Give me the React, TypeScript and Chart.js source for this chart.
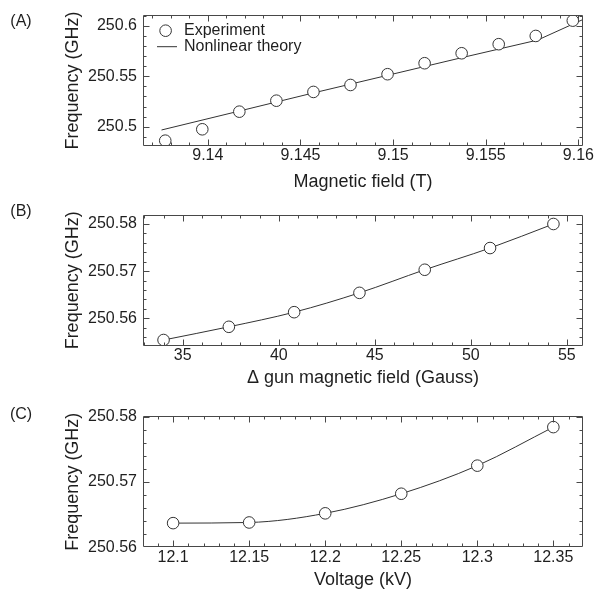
import React, { useEffect, useRef } from "react";
import { Chart, registerables } from "chart.js";
Chart.register(...registerables);

const FONT = "'Liberation Sans', Arial, Helvetica, sans-serif";
const INK = "#1e1e1e";
const FRAME = "#484848";

// ---------- Panel A ----------
const fieldA = [9.1377, 9.1397, 9.1417, 9.1437, 9.1457, 9.1477, 9.1497, 9.1517, 9.1537, 9.1557, 9.1577, 9.1597];
const freqA = [250.4861, 250.4974, 250.5149, 250.5258, 250.5345, 250.5414, 250.5521, 250.563, 250.5729, 250.5819, 250.5901, 250.6053];
const theoryFieldA = [9.1375, 9.1417, 9.1457, 9.1497, 9.1537, 9.1578, 9.1602];
const theoryFreqA = [250.4967, 250.5155, 250.5335, 250.551, 250.5685, 250.586, 250.606];
const xTicksA = [9.14, 9.145, 9.15, 9.155, 9.16];
const yTicksA = [250.5, 250.55, 250.6];

// ---------- Panel B ----------
const gunB = [34.0, 37.4, 40.8, 44.2, 47.6, 51.0, 54.3];
const freqB = [250.5554, 250.5582, 250.5613, 250.5654, 250.5703, 250.5749, 250.58];
const theoryGunB = [34.0, 37.4, 40.8, 44.2, 47.6, 51.0, 54.3];
const theoryFreqB = [250.5554, 250.5582, 250.5613, 250.5654, 250.5703, 250.5749, 250.58];
const xTicksB = [35, 40, 45, 50, 55];
const yTicksB = [250.56, 250.57, 250.58];

// ---------- Panel C ----------
const voltC = [12.1, 12.15, 12.2, 12.25, 12.3, 12.35];
const freqC = [250.5637, 250.5638, 250.5652, 250.5682, 250.5725, 250.5784];
const theoryVoltC = [12.1, 12.15, 12.2, 12.25, 12.3, 12.35];
const theoryFreqC = [250.5637, 250.5638, 250.5652, 250.5682, 250.5725, 250.5784];
const xTicksC = [12.1, 12.15, 12.2, 12.25, 12.3, 12.35];
const yTicksC = [250.56, 250.57, 250.58];

const framePlugin = {
  id: "frameTicks",
  afterDraw(chart: any, _a: any, opts: any) {
    const { ctx, chartArea: a, scales } = chart;
    const xs = scales.x, ys = scales.y;
    const L = Math.round(a.left) + 0.5, R = Math.round(a.right) - 0.5;
    const T = Math.round(a.top) + 0.5, B = Math.round(a.bottom) - 0.5;
    ctx.save();
    ctx.strokeStyle = FRAME;
    ctx.lineWidth = 1;
    ctx.beginPath();
    ctx.rect(L, T, R - L, B - T);
    ctx.stroke();
    const near = (v: number, arr: number[], step: number) => arr.some((m) => Math.abs(m - v) < step * 0.05);
    ctx.beginPath();
    const drawX = (v: number, len: number) => {
      const p = Math.round(xs.getPixelForValue(v)) + 0.5;
      if (p < L - 0.1 || p > R + 0.1) return;
      ctx.moveTo(p, B); ctx.lineTo(p, B - len);
      ctx.moveTo(p, T); ctx.lineTo(p, T + len);
    };
    const drawY = (v: number, len: number) => {
      const p = Math.round(ys.getPixelForValue(v)) + 0.5;
      if (p < T - 0.1 || p > B + 0.1) return;
      ctx.moveTo(L, p); ctx.lineTo(L + len, p);
      ctx.moveTo(R, p); ctx.lineTo(R - len, p);
    };
    opts.xMajor.forEach((v: number) => drawX(v, 6));
    opts.yMajor.forEach((v: number) => drawY(v, 6));
    for (let k = Math.ceil(xs.min / opts.xMinor - 1e-6); k * opts.xMinor <= xs.max + 1e-9; k++) {
      const v = k * opts.xMinor;
      if (!near(v, opts.xMajor, opts.xMinor)) drawX(v, 3);
    }
    for (let k = Math.ceil(ys.min / opts.yMinor - 1e-6); k * opts.yMinor <= ys.max + 1e-9; k++) {
      const v = k * opts.yMinor;
      if (!near(v, opts.yMajor, opts.yMinor)) drawY(v, 3);
    }
    ctx.stroke();
    // panel label
    ctx.fillStyle = INK;
    ctx.font = `16px ${FONT}`;
    ctx.textAlign = "center";
    ctx.textBaseline = "middle";
    ctx.fillText(opts.label, opts.lx, opts.ly);
    // legend
    if (opts.legend) {
      const lx = a.left, ly = a.top;
      ctx.beginPath();
      ctx.arc(lx + 22.6, ly + 15.7, 5.8, 0, Math.PI * 2);
      ctx.fillStyle = "#fff";
      ctx.fill();
      ctx.strokeStyle = "#333";
      ctx.stroke();
      ctx.beginPath();
      ctx.moveTo(lx + 14, ly + 31.7);
      ctx.lineTo(lx + 34, ly + 31.7);
      ctx.stroke();
      ctx.fillStyle = INK;
      ctx.textAlign = "left";
      ctx.font = `16px ${FONT}`;
      ctx.fillText(opts.legend[0], lx + 41, ly + 15.7);
      ctx.fillText(opts.legend[1], lx + 41, ly + 31.7);
    }
    ctx.restore();
  },
};

type PanelCfg = {
  H: number;
  frameTop: number;
  frameBottom: number;
  titlePadBottom: number;
  xs: number[]; ys: number[]; txs: number[]; tys: number[];
  xTicks: number[]; yTicks: number[];
  xMin: number; xMax: number; yMin: number; yMax: number;
  xMinor: number; yMinor: number;
  xTitle: string;
  label: string; lx: number; ly: number;
  legend?: string[];
  smooth: boolean;
};

function Panel({ cfg, top }: { cfg: PanelCfg; top: number }) {
  const ref = useRef<HTMLCanvasElement | null>(null);
  useEffect(() => {
    if (!ref.current) return;
    const tickFont = { family: FONT, size: 16, lineHeight: 1 };
    const titleFont = { family: FONT, size: 18 };
    const chart = new Chart(ref.current, {
      type: "scatter",
      data: {
        datasets: [
          {
            label: "Experiment",
            data: cfg.xs.map((x, i) => ({ x, y: cfg.ys[i] })),
            showLine: false,
            pointRadius: 5.8,
            pointBorderWidth: 1,
            pointBorderColor: "#333",
            pointBackgroundColor: "#fff",
          },
          {
            label: "Nonlinear theory",
            data: cfg.txs.map((x, i) => ({ x, y: cfg.tys[i] })),
            showLine: true,
            pointRadius: 0,
            borderColor: "#333",
            borderWidth: 1,
            cubicInterpolationMode: cfg.smooth ? "monotone" : "default",
          } as any,
        ],
      },
      options: {
        animation: false,
        responsive: false,
        maintainAspectRatio: false,
        events: [],
        layout: { padding: { top: cfg.frameTop, right: 21, bottom: 0, left: 0 } },
        plugins: {
          legend: { display: false },
          tooltip: { enabled: false },
          frameTicks: {
            xMajor: cfg.xTicks, yMajor: cfg.yTicks, xMinor: cfg.xMinor, yMinor: cfg.yMinor,
            label: cfg.label, lx: cfg.lx, ly: cfg.ly, legend: cfg.legend,
          },
        } as any,
        scales: {
          x: {
            type: "linear",
            min: cfg.xMin,
            max: cfg.xMax,
            grid: { display: false, drawTicks: false },
            border: { display: false },
            ticks: { font: tickFont, color: INK, padding: 2, maxRotation: 0, minRotation: 0, autoSkip: false, callback: (v: any) => String(v) },
            afterBuildTicks: (s: any) => { s.ticks = cfg.xTicks.map((value) => ({ value })); },
            afterFit: (s: any) => { s.height = cfg.H - cfg.frameBottom; },
            title: { display: true, text: cfg.xTitle, font: titleFont, color: INK, padding: { top: 0, bottom: cfg.titlePadBottom } },
          },
          y: {
            type: "linear",
            min: cfg.yMin,
            max: cfg.yMax,
            grid: { display: false, drawTicks: false },
            border: { display: false },
            ticks: { font: tickFont, color: INK, padding: 6, autoSkip: false, callback: (v: any) => String(v) },
            afterBuildTicks: (s: any) => { s.ticks = cfg.yTicks.map((value) => ({ value })); },
            afterFit: (s: any) => { s.width = 143; },
            title: { display: true, text: "Frequency (GHz)", font: titleFont, color: INK, padding: { top: 62.4, bottom: 0 } },
          },
        },
      },
      plugins: [framePlugin],
    } as any);
    return () => chart.destroy();
  }, []);
  return (
    <canvas
      ref={ref}
      width={604}
      height={cfg.H}
      style={{ position: "absolute", left: 0, top, width: 604, height: cfg.H, display: "block" }}
    />
  );
}

const panelA: PanelCfg = {
  H: 197, frameTop: 15, frameBottom: 146, titlePadBottom: 4.5,
  xs: fieldA, ys: freqA, txs: theoryFieldA, tys: theoryFreqA,
  xTicks: xTicksA, yTicks: yTicksA,
  xMin: 9.1365, xMax: 9.16025, yMin: 250.4808, yMax: 250.6109,
  xMinor: 0.001, yMinor: 0.01,
  xTitle: "Magnetic field (T)", label: "(A)", lx: 21, ly: 21.7,
  legend: ["Experiment", "Nonlinear theory"], smooth: false,
};
const panelB: PanelCfg = {
  H: 197, frameTop: 17.7, frameBottom: 149, titlePadBottom: 5.2,
  xs: gunB, ys: freqB, txs: theoryGunB, tys: theoryFreqB,
  xTicks: xTicksB, yTicks: yTicksB,
  xMin: 32.93, xMax: 55.84, yMin: 250.55413, yMax: 250.58197,
  xMinor: 1, yMinor: 0.002,
  xTitle: "Δ gun magnetic field (Gauss)", label: "(B)", lx: 21, ly: 14.7, smooth: true,
};
const panelC: PanelCfg = {
  H: 199, frameTop: 22, frameBottom: 153.3, titlePadBottom: 2.2,
  xs: voltC, ys: freqC, txs: theoryVoltC, tys: theoryFreqC,
  xTicks: xTicksC, yTicks: yTicksC,
  xMin: 12.0802, xMax: 12.3695, yMin: 250.56, yMax: 250.5801,
  xMinor: 0.01, yMinor: 0.002,
  xTitle: "Voltage (kV)", label: "(C)", lx: 21, ly: 21, smooth: true,
};

export default function App() {
  return (
    <div style={{ position: "absolute", left: 0, top: 0, width: 604, height: 593, background: "#fff" }}>
      <Panel cfg={panelA} top={0} />
      <Panel cfg={panelB} top={197} />
      <Panel cfg={panelC} top={394} />
    </div>
  );
}
